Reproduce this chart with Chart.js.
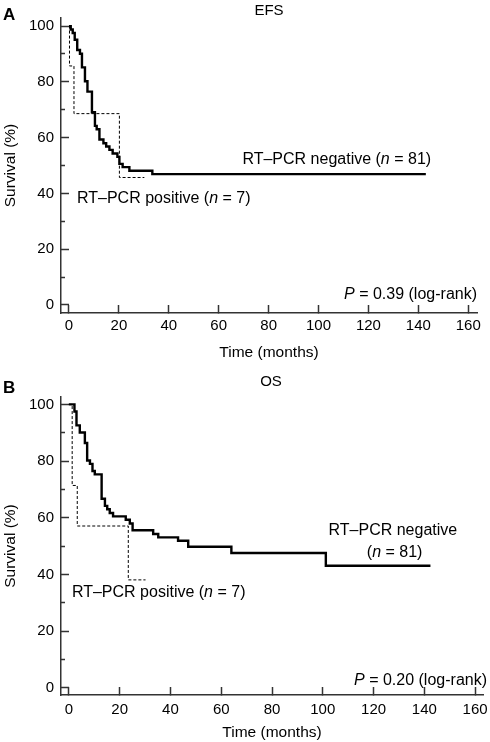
<!DOCTYPE html>
<html>
<head>
<meta charset="utf-8">
<script src="https://cdn.jsdelivr.net/npm/chart.js@4.4.1/dist/chart.umd.min.js"></script>
<style>
  html, body { margin: 0; padding: 0; background: #fff; }
  .panel { position: absolute; left: 0; width: 490px; height: 371px; }
  #panelA { top: 0; }
  #panelB { top: 371px; }
</style>
</head>
<body>
<div class="panel" id="panelA"><canvas id="chartA" width="490" height="371"></canvas></div>
<div class="panel" id="panelB"><canvas id="chartB" width="490" height="371"></canvas></div>
<script>
// axis ticks
const xTicks = [0, 20, 40, 60, 80, 100, 120, 140, 160]
const yTicks = [0, 10, 20, 30, 40, 50, 60, 70, 80, 90, 100]

// EFS - RT-PCR negative (n = 81), time in months / survival %
const efsNegTime = [0, 0.7, 1.5, 2.3, 3.3, 4.4, 5.2, 6.4, 7.4, 9.2, 10.4, 11.1, 12.2, 13.8, 14.9, 16.2, 17.5, 19.4, 20.2, 21.5, 24.2, 33.4, 143]
const efsNegSurv = [100, 98.8, 97.5, 95.1, 91.4, 90.1, 85.2, 80.2, 76.5, 69.1, 64.2, 63.0, 59.3, 58.0, 56.8, 55.6, 54.3, 53.1, 50.6, 49.4, 48.1, 46.9, 46.9]
// EFS - RT-PCR positive (n = 7)
const efsPosTime = [0, 0.2, 2.0, 20.2, 30.2]
const efsPosSurv = [100, 85.7, 68.6, 45.7, 45.7]

// OS - RT-PCR negative (n = 81)
const osNegTime = [0, 2.2, 3.0, 4.3, 6.3, 7.2, 8.3, 9.3, 10.2, 12.9, 14.2, 15.1, 16.1, 17.4, 22.4, 24.0, 25.1, 33.2, 35.2, 43.0, 47.0, 64.0, 101.2, 142.4]
const osNegSurv = [100, 97.5, 92.6, 90.1, 86.4, 80.2, 79.0, 76.5, 75.3, 66.7, 64.2, 63.0, 61.7, 60.5, 59.3, 58.0, 55.6, 54.3, 53.1, 51.9, 49.8, 47.6, 43.1, 43.1]
// OS - RT-PCR positive (n = 7)
const osPosTime = [0, 1.3, 3.3, 23.4, 30.2]
const osPosSurv = [100, 71.4, 57.1, 38.1, 38.1]

const FAMILY = '"Liberation Sans", Arial, Helvetica, sans-serif'

function kmPoints(times, surv) {
  return times.map((t, i) => ({ x: t, y: surv[i] }))
}

// draws text made of plain and *italic* runs
function drawRuns(ctx, text, px, py, align, size, bold) {
  let parts = text.split('*')
  let fonts = parts.map((p, i) => (i % 2 ? 'italic ' : '') + (bold ? 'bold ' : '') + size + 'px ' + FAMILY)
  let total = 0
  parts.forEach((p, i) => { ctx.font = fonts[i]; total += ctx.measureText(p).width })
  let x = px
  if (align == 'center') x = px - total / 2
  if (align == 'right') x = px - total
  parts.forEach((p, i) => {
    ctx.font = fonts[i]
    ctx.fillText(p, x, py)
    x += ctx.measureText(p).width
  })
}

const notesPlugin = {
  id: 'notes',
  afterDraw(chart, args, opts) {
    const ctx = chart.ctx
    const xs = chart.scales.x, ys = chart.scales.y
    ctx.save()
    ctx.fillStyle = '#000'
    ctx.textBaseline = 'middle'
    for (let n of opts.items) {
      let px = n.px != null ? n.px : xs.getPixelForValue(n.x)
      let py = n.py != null ? n.py : ys.getPixelForValue(n.y)
      drawRuns(ctx, n.text, px, py, n.align || 'left', n.size || 16, n.bold)
    }
    ctx.restore()
  }
}

function makeChart(id, neg, pos, box, notes) {
  const tickFont = { family: FAMILY, size: 15 }
  const titleFont = { family: FAMILY, size: 15.5 }
  return new Chart(document.getElementById(id), {
    type: 'line',
    data: {
      datasets: [
        { data: neg, borderColor: '#000', borderWidth: 2.4, stepped: true, pointRadius: 0, fill: false },
        { data: pos, borderColor: '#000', borderWidth: 1, borderDash: [3, 2], stepped: true, pointRadius: 0, fill: false }
      ]
    },
    options: {
      responsive: false,
      animation: false,
      layout: { padding: { top: box.top, right: 490 - box.right, bottom: 0, left: 0 } },
      plugins: {
        legend: { display: false },
        tooltip: { enabled: false },
        notes: { items: notes }
      },
      scales: {
        x: {
          type: 'linear',
          min: box.xMin,
          max: box.xMax,
          afterBuildTicks: s => { s.ticks = xTicks.map(v => ({ value: v })) },
          afterFit: s => { s.height = 371 - box.bottom; s.paddingLeft = 0; s.paddingRight = 0 },
          ticks: { font: tickFont, color: '#000', padding: box.xLabelPad, maxRotation: 0, autoSkip: false },
          grid: { drawOnChartArea: false, tickLength: -8, tickColor: '#333', tickWidth: 1.5 },
          border: { color: '#333', width: 1.5 },
          title: { display: true, text: 'Time (months)', font: titleFont, color: '#000', padding: { top: 0, bottom: box.xTitlePad } }
        },
        y: {
          min: box.yMin,
          max: box.yMax,
          afterBuildTicks: s => { s.ticks = yTicks.map(v => ({ value: v })) },
          afterFit: s => { s.width = 61; s.paddingTop = 0; s.paddingBottom = 0 },
          ticks: { font: tickFont, color: '#000', padding: 15, autoSkip: false, callback: v => (v % 20 == 0 ? v : '') },
          grid: {
            drawOnChartArea: false, tickLength: -8, tickColor: '#333', tickWidth: 1.5,
            tickBorderDash: c => (c.tick && c.tick.value % 20 != 0 ? [0, 4, 4, 100] : [])
          },
          border: { color: '#333', width: 1.5 },
          title: { display: true, text: 'Survival (%)', font: titleFont, color: '#000', padding: { top: 1, bottom: 0 } }
        }
      }
    },
    plugins: [notesPlugin]
  })
}

makeChart('chartA', kmPoints(efsNegTime, efsNegSurv), kmPoints(efsPosTime, efsPosSurv),
  { top: 18, bottom: 313, right: 477, xMin: -3.2, xMax: 163.5, yMin: -2.9, yMax: 102.9, xLabelPad: 12, xTitlePad: 9 },
  [
    { text: 'A', px: 3, py: 15, size: 17, bold: true },
    { text: 'EFS', px: 269, py: 11, align: 'center', size: 15 },
    { text: 'RT–PCR negative (*n* = 81)', x: 69.5, y: 52 },
    { text: 'RT–PCR positive (*n* = 7)', x: 3.2, y: 38 },
    { text: '*P* = 0.39 (log-rank)', px: 477, y: 3.6, align: 'right' }
  ])

makeChart('chartB', kmPoints(osNegTime, osNegSurv), kmPoints(osPosTime, osPosSurv),
  { top: 26, bottom: 324, right: 483, xMin: -3.1, xMax: 163.1, yMin: -2.5, yMax: 102.6, xLabelPad: 14, xTitlePad: 0 },
  [
    { text: 'B', px: 3, py: 17, size: 17, bold: true },
    { text: 'OS', px: 271, py: 11, align: 'center', size: 15 },
    { text: 'RT–PCR negative', x: 127.6, y: 55.6, align: 'center' },
    { text: '(*n* = 81)', x: 128.3, y: 47.9, align: 'center' },
    { text: 'RT–PCR positive (*n* = 7)', x: 1.2, y: 33.5 },
    { text: '*P* = 0.20 (log-rank)', px: 487, y: 2.6, align: 'right' }
  ])
</script>
</body>
</html>
